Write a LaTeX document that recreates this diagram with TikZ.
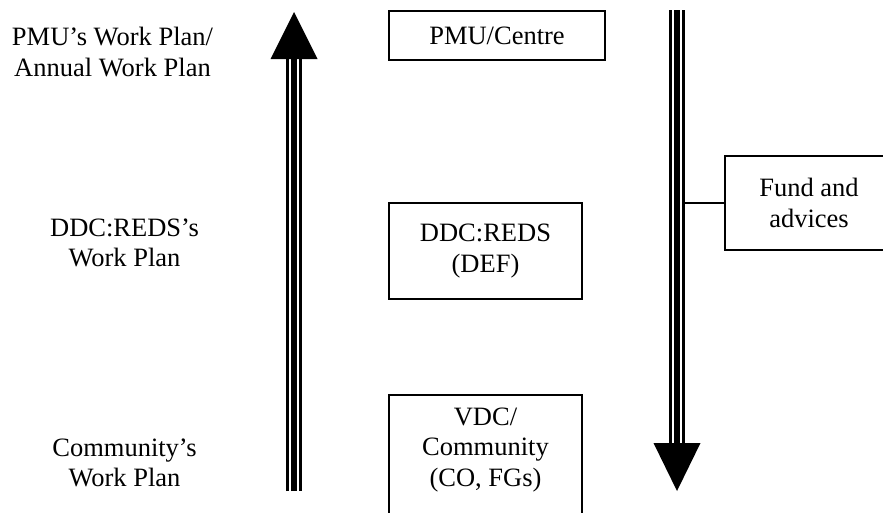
\documentclass[tikz,border=0pt]{standalone}
\usepackage{fontspec}
\setmainfont{Liberation Serif}
\tikzset{
    every node/.style={font=\fontsize{26.5}{30.5}\selectfont, align=center},
    box/.style={draw, line width=1.5pt, minimum width=193pt},
    frame/.style={line width=1.5pt},
    triple/.style={line width=16pt,
        postaction={draw=white, line width=10pt},
        postaction={draw=black, line width=6pt}},
    link/.style={line width=1.3pt}
}

\begin{document}
\begin{tikzpicture}[x=1pt, y=-1pt]
    % Fix the frame
    \clip (0,0) rectangle (883,512);

    % Define the arrow end points
    \coordinate (up0) at (294,491);
    \coordinate (up1) at (294,59);
    \coordinate (up2) at (294,12);
    \coordinate (dn0) at (677,10);
    \coordinate (dn1) at (677,443);
    \coordinate (dn2) at (677,491);

    % Draw the upward arrow (work plans)
    \draw[triple] (up0) -- (up1);
    \fill ([xshift=-23.5pt]up1) -- (up2) -- ([xshift=23.5pt]up1) -- cycle;

    % Draw the downward arrow (funds)
    \draw[triple] (dn0) -- (dn1);
    \fill ([xshift=-23.5pt]dn1) -- (dn2) -- ([xshift=23.5pt]dn1) -- cycle;

    % Work plans on the left
    \node (lpmu) at (112.5,52) {PMU’s Work Plan/\\Annual Work Plan};
    \node (lddc) at (124.5,243) {DDC:REDS’s\\Work Plan};
    \node (lvdc) at (124.5,463) {Community’s\\Work Plan};

    % Levels in the middle
    \node[box, minimum width=216pt, minimum height=49pt] (pmu) at (497,35.5) {PMU/Centre};
    \node[box, minimum height=96pt] (ddc) at (485.5,251) {DDC:REDS\\(DEF)};
    \draw[frame] (389,530) rectangle (582,395);
    \node (vdc) at (485.5,450) {VDC/\\Community\\(CO, FGs)};

    % Fund box on the right
    \node[box, minimum width=168pt, minimum height=94pt] (fund) at (809,203) {Fund and\\advices};
    \coordinate (tap) at (685,203);
    \draw[link] (tap) -- (fund.west);
\end{tikzpicture}
\end{document}
